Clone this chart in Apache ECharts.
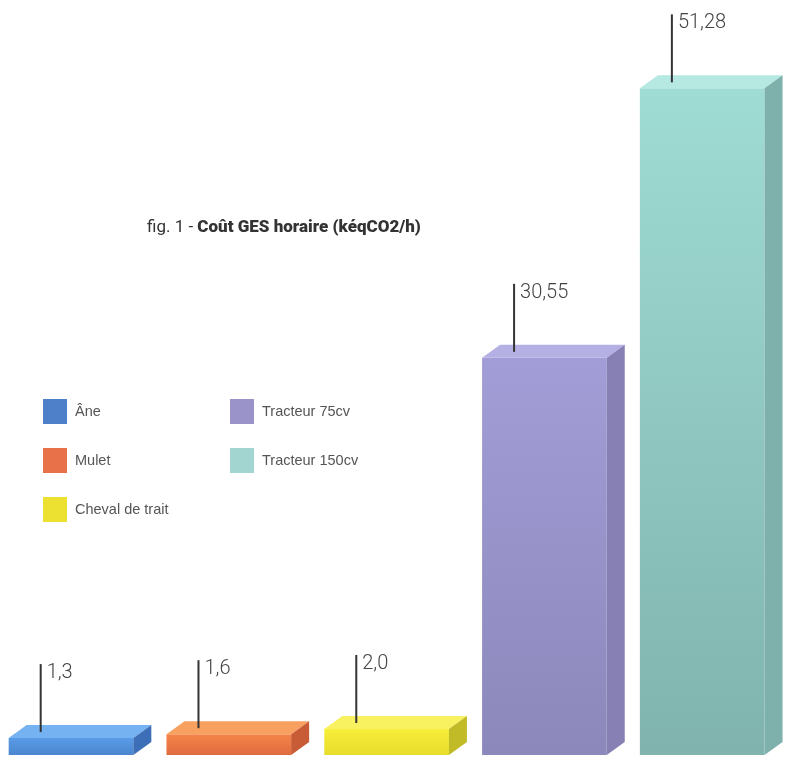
<!DOCTYPE html>
<html><head><meta charset="utf-8">
<script src="https://cdn.jsdelivr.net/npm/echarts@6/dist/echarts.min.js"></script>
<style>html,body{margin:0;padding:0;background:#fff}#c{width:810px;height:763px}</style>
</head><body><div id="c"></div>
<script>
const categories = ['Âne', 'Mulet', 'Cheval de trait', 'Tracteur 75cv', 'Tracteur 150cv'];
const values = [1.3, 1.6, 2.0, 30.55, 51.28];
const valueLabels = ['1,3', '1,6', '2,0', '30,55', '51,28'];
const legendColors = ['#4d80c8', '#e8714a', '#ece030', '#9a93c9', '#a2d5d0'];
const frontTop = ['#5a9be6', '#f5854a', '#f6ee3a', '#a29dd6', '#9fdcd3'];
const frontBottom = ['#4a86cf', '#e06a3e', '#e8dc2a', '#8c88bb', '#80b3ae'];
const topColors = ['#74b2f2', '#f8a060', '#f8f260', '#b5b0e4', '#b6e9e2'];
const sideColors = ['#3d6fb8', '#c85c36', '#c2bb28', '#8680b4', '#7eb1ab'];

const chart = echarts.init(document.getElementById('c'));
const DX = 18, DY = 13;

function makeRender(idx) {
  return function (params, api) {
    const base = api.coord([api.value(0), 0]);
    const top = api.coord([api.value(0), api.value(1)]);
    const band = api.size([1, 0])[0];
    const w = band * 0.79;
    const left = base[0] - w / 2;
    const bottom = base[1];
    const ty = top[1];
    const lx = left + 32;
    const lineBottom = ty - 6;
    const lineTop = lineBottom - 68;
    return {
      type: 'group',
      children: [
        { type: 'rect', shape: { x: left, y: ty, width: w, height: bottom - ty },
          style: { fill: new echarts.graphic.LinearGradient(0, 0, 0, 1, [{ offset: 0, color: frontTop[idx] }, { offset: 1, color: frontBottom[idx] }]) } },
        { type: 'polygon', shape: { points: [[left, ty], [left + DX, ty - DY], [left + w + DX, ty - DY], [left + w, ty]] }, style: { fill: topColors[idx] } },
        { type: 'polygon', shape: { points: [[left + w, ty], [left + w + DX, ty - DY], [left + w + DX, bottom - DY], [left + w, bottom]] }, style: { fill: sideColors[idx] } },
        { type: 'line', shape: { x1: lx, y1: lineBottom, x2: lx, y2: lineTop }, style: { stroke: '#333', lineWidth: 2 } },
        { type: 'text', style: { x: lx + 6, y: lineTop - 1, text: valueLabels[idx], fill: '#444', fontSize: 20, fontFamily: 'Roboto', fontWeight: 300, verticalAlign: 'top', align: 'left' } }
      ]
    };
  };
}

const series = categories.map((name, i) => ({
  name: name,
  type: 'custom',
  renderItem: makeRender(i),
  itemStyle: { color: legendColors[i] },
  data: [[i, values[i]]],
  encode: { x: 0, y: 1 }
}));

const legendText = { color: '#555', fontSize: 14.5, fontFamily: 'Liberation Sans', padding: [0, 0, 0, 3] };

chart.setOption({
  animation: false,
  title: {
    left: 142, top: 214,
    text: '{a|fig. 1 - }{b|Coût GES horaire (kéqCO2/h)}',
    textStyle: {
      rich: {
        a: { fontSize: 17, fontFamily: 'Roboto', fontWeight: 400, color: '#333' },
        b: { fontSize: 17, fontFamily: 'Roboto', fontWeight: 900, color: '#333' }
      }
    }
  },
  legend: [
    { data: categories.slice(0, 3), left: 38, top: 394, orient: 'vertical', icon: 'rect', itemWidth: 24, itemHeight: 25, itemGap: 24, textStyle: legendText },
    { data: categories.slice(3), left: 225, top: 394, orient: 'vertical', icon: 'rect', itemWidth: 24, itemHeight: 25, itemGap: 24, textStyle: legendText }
  ],
  grid: { left: 0, width: 789, top: 1, bottom: 8 },
  xAxis: { type: 'value', min: -0.45, max: 4.55, show: false },
  yAxis: { type: 'value', min: 0, max: 58, show: false },
  series: series
});
</script></body></html>
